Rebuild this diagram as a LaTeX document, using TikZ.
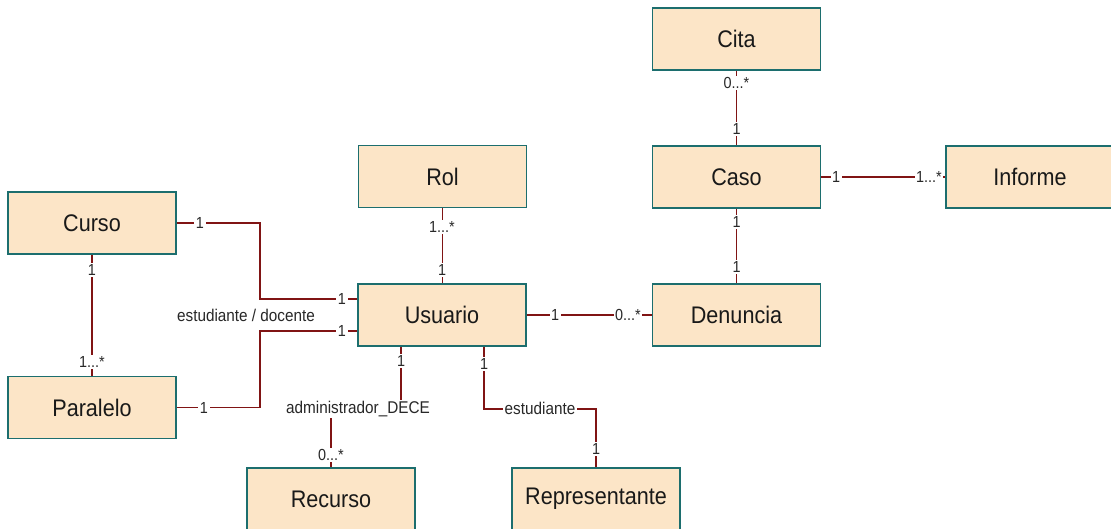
\documentclass[tikz,border=0pt]{standalone}
\usepackage{fontspec}
\setmainfont{Liberation Sans}
\newfontfamily\condfont[FakeStretch=0.9]{Liberation Sans}
\usetikzlibrary{calc}
\definecolor{boxfill}{RGB}{252,229,199}
\definecolor{boxline}{RGB}{28,110,110}
\definecolor{assoc}{RGB}{128,20,20}
\definecolor{labtext}{RGB}{40,40,40}
\begin{document}
\begin{tikzpicture}[x=1pt,y=-1pt,
  cls/.style={draw=boxline,fill=boxfill,line width=1.5pt,minimum width=168pt,minimum height=62pt,inner sep=0pt,text=black!90,font=\condfont\fontsize{24}{28}\selectfont},
  assocline/.style={draw=assoc,line width=1.6pt},
  mult/.style={fill=white,inner sep=1.5pt,text=labtext,font=\condfont\fontsize{16}{18}\selectfont},
  rolelab/.style={fill=white,inner sep=1.5pt,text=labtext,font=\condfont\fontsize{17}{19}\selectfont}]
\useasboundingbox (0,0) rectangle (1111,528);
\clip (0,0) rectangle (1111,528);
% classes
\node[cls] (Cita) at (736.5,39) {Cita};
\node[cls] (Caso) at (736.5,177) {Caso};
\node[cls] (Denuncia) at (736.5,315) {Denuncia};
\node[cls] (Informe) at (1030,177) {Informe};
\node[cls] (Rol) at (442.5,176.5) {Rol};
\node[cls] (Usuario) at (442,315) {Usuario};
\node[cls] (Curso) at (92,223) {Curso};
\node[cls] (Paralelo) at (92,407.5) {Paralelo};
\node[cls] (Recurso) at (331,499) {Recurso};
\node[cls] (Representante) at (596,499) {Representante};
% associations
\draw[assocline] (Cita.south) -- (Caso.north);
\draw[assocline] (Caso.south) -- (Denuncia.north);
\draw[assocline] (Caso.east) -- (Informe.west);
\draw[assocline] (Usuario.east) -- (Denuncia.west);
\draw[assocline] (Rol.south) -- (Rol.south |- Usuario.north);
\draw[assocline] (Curso.south) -- (Paralelo.north);
\draw[assocline] (Curso.east) -| (260,261) |- ([yshift=16pt]Usuario.west);
\draw[assocline] (Paralelo.east) -| (260,331) -- ([yshift=-16pt]Usuario.west);
\draw[assocline] ([xshift=-41pt]Usuario.south) -- ++(0,63) -| (Recurso.north);
\draw[assocline] ([xshift=42pt]Usuario.south) -- ++(0,62) -| (Representante.north);
% multiplicities and roles
\node[mult] (m1) at (200,223) {1};
\node[mult] (m2) at (342,299) {1};
\node[mult] (m3) at (342,331) {1};
\node[mult] (m4) at (204,408) {1};
\node[rolelab] (r1) at (246,315) {estudiante / docente};
\node[mult] (m5) at (92,270) {1};
\node[mult] (m6) at (92,362) {1...*};
\node[mult] (m7) at (442,227) {1...*};
\node[mult] (m8) at (442,270) {1};
\node[mult] (m9) at (555,315) {1};
\node[mult] (m10) at (628,315) {0...*};
\node[mult] (m11) at (736.5,83) {0...*};
\node[mult] (m12) at (736.5,129) {1};
\node[mult] (m13) at (736.5,222) {1};
\node[mult] (m14) at (736.5,267) {1};
\node[mult] (m15) at (836,177) {1};
\node[mult] (m16) at (929,177) {1...*};
\node[mult] (m17) at (401,361) {1};
\node[rolelab] (r2) at (358,409) {administrador\_DECE};
\node[mult] (m18) at (331,455) {0...*};
\node[mult] (m19) at (484,364) {1};
\node[rolelab] (r3) at (540,408) {estudiante};
\node[mult] (m20) at (596,449) {1};
\end{tikzpicture}
\end{document}
